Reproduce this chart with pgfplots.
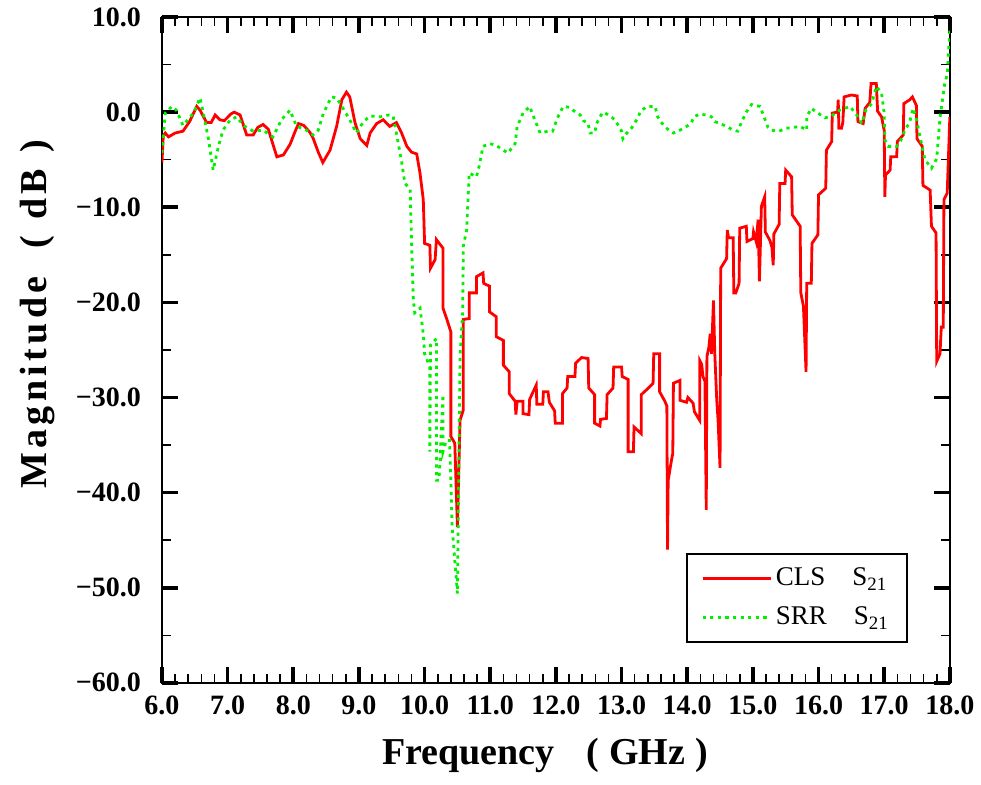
\documentclass[border=0pt]{standalone}
\usepackage{pgfplots}
\pgfplotsset{compat=1.18}
\usepackage{fontspec}
\setmainfont{Liberation Serif}
\definecolor{cls}{RGB}{255,0,0}
\definecolor{srr}{RGB}{0,240,0}
\newcommand{\ls}{\kern2.2pt}
\begin{document}
\begin{tikzpicture}
\begin{axis}[
  name=ax,
  scale only axis,
  width=394pt, height=333pt,
  xmin=6, xmax=18, ymin=-60, ymax=10,
  xtick={6,7,...,18},
  xticklabels={6.0,7.0,8.0,9.0,10.0,11.0,12.0,13.0,14.0,15.0,16.0,17.0,18.0},
  ytick={-60,-50,...,10},
  yticklabels={−60.0,−50.0,−40.0,−30.0,−20.0,−10.0,0.0,10.0},
  minor x tick num=4,
  minor y tick num=1,
  tick align=inside,
  xtick pos=both, ytick pos=both,
  major tick length=8pt,
  minor tick length=4.5pt,
  major tick style={line width=1.8pt, black},
  minor tick style={line width=0.8pt, black},
  axis line style={line width=1.3pt},
  ticklabel style={font=\fontsize{14}{16}\selectfont\bfseries},
  xticklabel style={yshift=-3pt},
  yticklabel style={xshift=-7pt},
  xlabel={Frequency\hspace{16pt}(\hspace{5pt}GHz\hspace{5pt})},
  ylabel={M\ls a\ls g\ls n\ls i\ls t\ls u\ls d\ls e\hspace{14pt}(\hspace{8pt}d\ls B\hspace{8pt})},
  xlabel style={font=\fontsize{19}{22}\selectfont\bfseries, at={(axis description cs:0.486,-0.083)}, anchor=north, inner sep=0pt},
  ylabel style={font=\fontsize{19}{22}\selectfont\bfseries, at={(axis description cs:-0.136,0.553)}, anchor=south, inner sep=0pt},
  legend style={at={(axis description cs:0.947,0.06)}, anchor=south east, draw=black, line width=1.2pt, font=\fontsize{13.5}{15}\selectfont, inner xsep=7pt, inner ysep=5pt, row sep=5pt, legend cell align=left},
  legend image code/.code={\draw[#1] (0pt,0pt) -- (34pt,0pt);},
]
\addplot[cls, line width=1.4pt, line join=miter] coordinates {
(6.00,-5.3)(6.02,-2.5)(6.05,-2.2)(6.10,-2.6)(6.20,-2.2)(6.32,-2.0)(6.42,-1.0)(6.53,0.6)(6.58,0.2)(6.68,-1.1)(6.75,-1.1)(6.81,-0.3)(6.88,-0.8)(6.95,-0.9)(7.05,-0.2)(7.10,0.0)(7.19,-0.3)(7.29,-2.4)(7.39,-2.4)(7.46,-1.6)(7.54,-1.3)(7.62,-1.8)(7.70,-3.6)(7.75,-4.7)(7.85,-4.5)(7.95,-3.4)(8.03,-2.0)(8.08,-1.2)(8.16,-1.4)(8.25,-2.1)(8.30,-2.7)(8.38,-4.2)(8.45,-5.3)(8.56,-4.0)(8.66,-1.5)(8.74,1.3)(8.81,2.1)(8.86,1.6)(8.94,-1.1)(9.02,-2.8)(9.12,-3.5)(9.17,-2.2)(9.27,-1.2)(9.32,-1.0)(9.37,-0.8)(9.47,-1.5)(9.57,-1.1)(9.65,-2.2)(9.73,-3.6)(9.80,-4.2)(9.88,-4.4)(9.93,-6.4)(9.98,-9.2)(10.00,-13.8)(10.08,-14.0)(10.09,-16.4)(10.16,-15.5)(10.18,-13.4)(10.28,-14.3)(10.28,-20.6)(10.34,-21.8)(10.40,-23.1)(10.40,-34.1)(10.46,-34.8)(10.50,-43.6)(10.54,-32.4)(10.59,-31.3)(10.59,-21.8)(10.68,-21.7)(10.68,-19.0)(10.79,-19.0)(10.79,-17.3)(10.89,-16.9)(10.90,-18.0)(10.99,-18.3)(10.99,-21.0)(11.09,-21.5)(11.09,-23.6)(11.20,-24.0)(11.20,-26.6)(11.29,-27.3)(11.29,-29.6)(11.38,-30.4)(11.39,-31.8)(11.41,-30.4)(11.50,-30.4)(11.50,-31.7)(11.59,-31.8)(11.60,-30.2)(11.70,-28.7)(11.71,-30.7)(11.80,-30.7)(11.81,-29.4)(11.88,-29.4)(11.90,-30.5)(11.98,-31.4)(11.99,-32.7)(12.10,-32.7)(12.10,-29.6)(12.17,-29.0)(12.18,-27.8)(12.29,-27.8)(12.30,-26.4)(12.39,-25.8)(12.49,-25.9)(12.50,-29.0)(12.59,-29.7)(12.59,-32.7)(12.67,-33.0)(12.68,-32.3)(12.77,-32.2)(12.78,-29.7)(12.87,-29.0)(12.88,-26.8)(13.00,-26.8)(13.01,-27.8)(13.10,-28.1)(13.10,-35.7)(13.18,-35.7)(13.19,-33.1)(13.30,-33.8)(13.30,-29.7)(13.41,-29.0)(13.48,-28.5)(13.49,-25.4)(13.58,-25.4)(13.58,-29.4)(13.66,-30.4)(13.69,-30.9)(13.70,-46.0)(13.71,-38.7)(13.76,-36.6)(13.78,-35.9)(13.79,-28.5)(13.89,-28.2)(13.89,-30.3)(13.99,-30.5)(14.01,-30.0)(14.09,-30.6)(14.11,-31.5)(14.19,-32.4)(14.19,-26.1)(14.22,-26.5)(14.24,-27.8)(14.27,-28.3)(14.29,-41.8)(14.30,-25.7)(14.33,-24.7)(14.35,-23.3)(14.37,-25.4)(14.40,-19.8)(14.42,-25.4)(14.45,-30.3)(14.47,-32.4)(14.50,-37.4)(14.51,-16.4)(14.60,-15.4)(14.61,-12.4)(14.63,-13.2)(14.70,-13.2)(14.71,-19.0)(14.74,-19.0)(14.79,-18.0)(14.80,-12.2)(14.90,-12.0)(14.91,-13.6)(15.00,-13.3)(15.01,-12.6)(15.05,-13.6)(15.08,-11.3)(15.10,-17.8)(15.13,-9.9)(15.18,-8.9)(15.19,-12.6)(15.26,-13.5)(15.29,-14.2)(15.31,-16.1)(15.32,-12.8)(15.40,-11.8)(15.41,-7.5)(15.49,-7.5)(15.50,-6.1)(15.59,-6.8)(15.60,-10.8)(15.72,-12.0)(15.73,-19.0)(15.77,-20.4)(15.81,-27.3)(15.82,-18.0)(15.89,-18.0)(15.90,-13.8)(15.99,-12.9)(16.00,-8.7)(16.11,-8.0)(16.12,-4.0)(16.20,-3.1)(16.21,-0.1)(16.29,0.0)(16.30,1.3)(16.31,-1.7)(16.35,-1.7)(16.37,-1.1)(16.39,1.6)(16.50,1.8)(16.59,1.7)(16.60,-1.0)(16.68,-1.2)(16.71,0.4)(16.78,1.0)(16.80,3.0)(16.88,3.0)(16.90,0.1)(16.96,-0.5)(17.00,-1.9)(17.01,-8.9)(17.02,-6.6)(17.09,-6.1)(17.10,-4.7)(17.19,-4.7)(17.20,-3.1)(17.29,-2.4)(17.30,0.9)(17.39,1.3)(17.43,1.6)(17.49,0.7)(17.50,-2.8)(17.58,-3.6)(17.59,-7.7)(17.70,-8.2)(17.72,-12.0)(17.79,-12.7)(17.80,-26.2)(17.85,-25.4)(17.87,-22.6)(17.90,-22.6)(17.91,-9.2)(17.96,-8.5)(18.00,-0.5)
};
\addlegendentry{CLS\quad S\textsubscript{21}}
\addplot[srr, line width=1.4pt, dash pattern=on 1.6pt off 2.2pt] coordinates {
(6.00,-4.3)(6.05,-0.1)(6.15,0.6)(6.22,0.2)(6.32,-1.4)(6.48,-0.1)(6.58,1.5)(6.63,-0.1)(6.71,-2.9)(6.78,-6.1)(6.86,-3.6)(6.93,-1.9)(7.04,-0.8)(7.14,-0.5)(7.24,-1.4)(7.39,-2.0)(7.54,-1.9)(7.69,-2.6)(7.82,-0.8)(7.95,0.2)(8.05,-1.5)(8.18,-1.8)(8.30,-2.4)(8.38,-1.9)(8.46,-0.1)(8.58,1.6)(8.66,1.5)(8.74,0.6)(8.86,-0.8)(8.96,-2.2)(9.07,-1.0)(9.17,-0.4)(9.32,-0.5)(9.45,-0.3)(9.52,-0.4)(9.57,-2.2)(9.65,-5.2)(9.70,-7.5)(9.78,-8.1)(9.80,-13.4)(9.83,-19.8)(9.85,-21.1)(9.93,-20.6)(9.98,-23.3)(10.00,-25.4)(10.08,-26.8)(10.08,-35.7)(10.09,-24.5)(10.18,-23.8)(10.18,-38.7)(10.22,-38.7)(10.28,-29.7)(10.28,-35.7)(10.33,-34.5)(10.38,-34.5)(10.42,-43.6)(10.50,-50.6)(10.54,-25.5)(10.58,-21.1)(10.59,-14.1)(10.64,-12.4)(10.68,-6.4)(10.79,-6.8)(10.83,-5.7)(10.89,-3.6)(10.99,-3.3)(11.09,-3.5)(11.20,-4.0)(11.27,-4.3)(11.38,-3.3)(11.41,-1.5)(11.50,-0.1)(11.60,0.6)(11.65,-0.3)(11.76,-2.2)(11.88,-2.0)(11.95,-2.0)(12.03,-0.5)(12.11,0.6)(12.21,0.5)(12.28,0.1)(12.37,-0.3)(12.42,-0.9)(12.49,-1.2)(12.52,-2.2)(12.59,-2.2)(12.62,-1.2)(12.67,-0.5)(12.72,0.0)(12.80,-0.3)(12.90,-0.8)(12.95,-1.4)(13.00,-2.0)(13.02,-2.8)(13.08,-2.2)(13.15,-1.7)(13.23,-0.8)(13.30,0.2)(13.40,0.6)(13.51,0.6)(13.55,-0.5)(13.64,-1.4)(13.72,-1.9)(13.79,-2.2)(13.89,-1.9)(13.99,-1.5)(14.06,-1.2)(14.10,-0.5)(14.19,-0.2)(14.28,-0.3)(14.37,-0.5)(14.42,-1.0)(14.50,-1.2)(14.60,-1.5)(14.70,-1.9)(14.77,-2.0)(14.83,-1.0)(14.90,0.0)(14.98,0.8)(15.03,0.7)(15.11,0.6)(15.17,-0.5)(15.23,-1.6)(15.28,-1.9)(15.40,-2.0)(15.51,-1.7)(15.62,-1.6)(15.72,-1.5)(15.82,-1.9)(15.82,-0.5)(15.89,0.4)(15.99,-0.1)(16.10,-0.6)(16.20,-0.4)(16.32,0.2)(16.48,0.6)(16.58,-0.3)(16.66,-1.2)(16.72,0.2)(16.81,0.9)(16.88,2.7)(16.96,2.0)(17.00,-0.1)(17.01,-2.9)(17.06,-3.6)(17.19,-3.6)(17.24,-3.2)(17.31,-2.0)(17.39,-1.0)(17.44,0.4)(17.48,-0.4)(17.54,-2.4)(17.62,-5.0)(17.72,-5.9)(17.80,-4.9)(17.85,-0.6)(17.92,2.9)(17.96,4.0)(18.00,8.6)
};
\addlegendentry{SRR\quad S\textsubscript{21}}
\end{axis}
\path (ax.south west) ++(-81pt,-51pt);
\path (ax.north east) ++(15.5pt,8.5pt);
\end{tikzpicture}
\end{document}
